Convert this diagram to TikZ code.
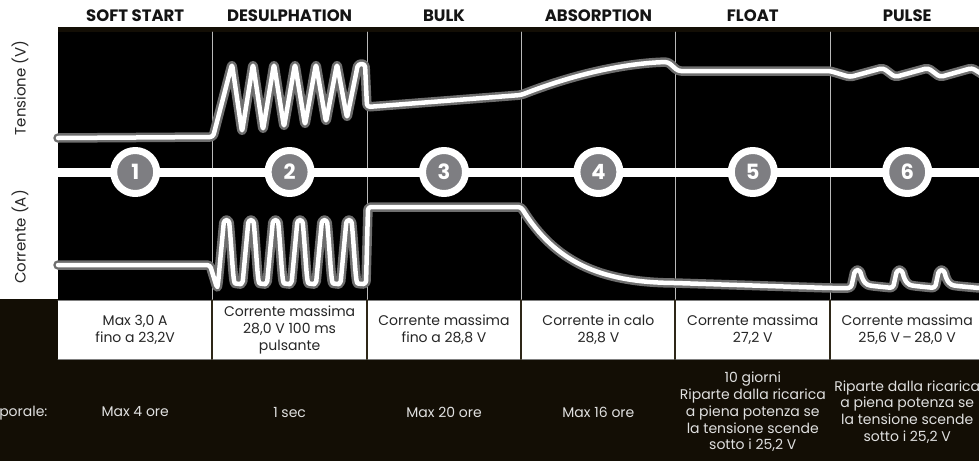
\documentclass[tikz,border=0pt]{standalone}
\usepackage{fontspec}
\setmainfont{Poppins}
\usetikzlibrary{positioning}
\definecolor{earth}{HTML}{130E05}
\definecolor{ring}{HTML}{7E7E82}
\definecolor{glow}{HTML}{6E6E6E}
\definecolor{rule}{HTML}{2E2718}
\tikzset{
  phase/.style={font=\fontsize{16.5}{19}\selectfont\bfseries, text=black!92},
  cell/.style={font=\fontsize{14}{16.7}\selectfont, align=center, text=black!85},
  span/.style={font=\fontsize{14}{16.7}\selectfont, align=center, text=white!88!black},
  axis/.style={font=\fontsize{15}{17}\selectfont, rotate=90, text=black!85},
  stage/.style={circle, fill=ring, draw=white, line width=7pt, minimum size=43pt,
    inner sep=0pt, text=white, font=\fontsize{21}{21}\selectfont\bfseries},
  trace/.style={draw=white, line width=4.5pt, rounded corners=3pt,
    preaction={draw=glow, line width=9.5pt}},
}
\begin{document}
\begin{tikzpicture}[line cap=round, line join=round, x=1pt, y=-1pt]
  \useasboundingbox (0,0) rectangle (979,461);
  \clip (0,0) rectangle (979,461);
  % backgrounds
  \fill[white] (0,0) rectangle (979,461);
  \fill[earth] (0,299) rectangle (979,461);
  \fill[earth] (58,27) rectangle (979,32);
  \fill[black] (58,32) rectangle (979,300);
  \fill[white] (58,300) rectangle (979,359);
  \draw[gray, line width=0.8pt] (58,300) -- (979,300) (58,359) -- (979,359);
  \foreach \x in {212,367,521,675,830} {
    \draw[gray!55, line width=0.8pt] (\x,32) -- (\x,300);
    \draw[rule, line width=2pt] (\x,300) -- (\x,359);
  }
  % axis labels
  \node[axis] (volt) at (20,88) {Tensione (V)};
  \node[axis] (amp) at (20,237) {Corrente (A)};
  \node[span, anchor=east] (time) at (51,413) {temporale:};
  % voltage
  \draw[trace] (58,138) -- (213,137)
    \foreach \p/\v in {232/132,253/130,274/127,295/125,316/122,337/118} { -- (\p,64) -- ({\p+10},\v) }
    -- (358,64) -- (365,64) -- (367,107) -- (521,95)
    .. controls (580,72) and (630,63) .. (668,62) -- (678,71) -- (830,71)
    -- (850,77) -- (883,68) -- (895,77) -- (928,68) -- (940,77) -- (972,68) -- (988,78);
  % current
  \draw[trace] (58,265) -- (210,265) -- (217,288)
    \foreach \b in {218,242.5,267,291.5,316,340.5} { -- (\b,284) -- ({\b+6},220) -- ({\b+11},220)
      .. controls ({\b+14},252) and ({\b+15},283) .. ({\b+20},284) }
    -- (366,284) -- (368,207) -- (521,207)
    .. controls (555,262) and (600,282) .. (675,283) -- (830,288)
    \foreach \p in {851,893,935} { -- (\p,288) -- ({\p+4},270) -- ({\p+9},270)
      .. controls ({\p+12},283) and ({\p+16},285) .. ({\p+22},286) }
    -- (979,288) -- (990,288);
  % timeline and stages
  \coordinate (start) at (58,172);
  \coordinate (end) at (979,172);
  \draw[white, line width=9pt, line cap=butt] (start) -- (end);
  \foreach \i/\name/\limit/\span in {
      1/SOFT START/{Max 3,0 A\\fino a 23,2V}/{Max 4 ore},
      2/DESULPHATION/{Corrente massima\\28,0 V 100 ms\\pulsante}/{1 sec},
      3/BULK/{Corrente massima\\fino a 28,8 V}/{Max 20 ore},
      4/ABSORPTION/{Corrente in calo\\28,8 V}/{Max 16 ore},
      5/FLOAT/{Corrente massima\\27,2 V}/{10 giorni\\Riparte dalla ricarica\\a piena potenza se\\la tensione scende\\sotto i 25,2 V},
      6/PULSE/{Corrente massima\\25,6 V\,–\,28,0 V}/{Riparte dalla ricarica\\a piena potenza se\\la tensione scende\\sotto i 25,2 V}} {
    \node[phase] (head\i) at ({58+154.4*(\i-0.5)},16) {\name};
    \node[stage] (stage\i) at ({58+154.4*(\i-0.5)},172) {\i};
    \node[cell] (cell\i) at ({58+154.4*(\i-0.5)},330) {\limit};
    \node[span] (span\i) at ({58+154.4*(\i-0.5)},412) {\span};
  }
\end{tikzpicture}
\end{document}
